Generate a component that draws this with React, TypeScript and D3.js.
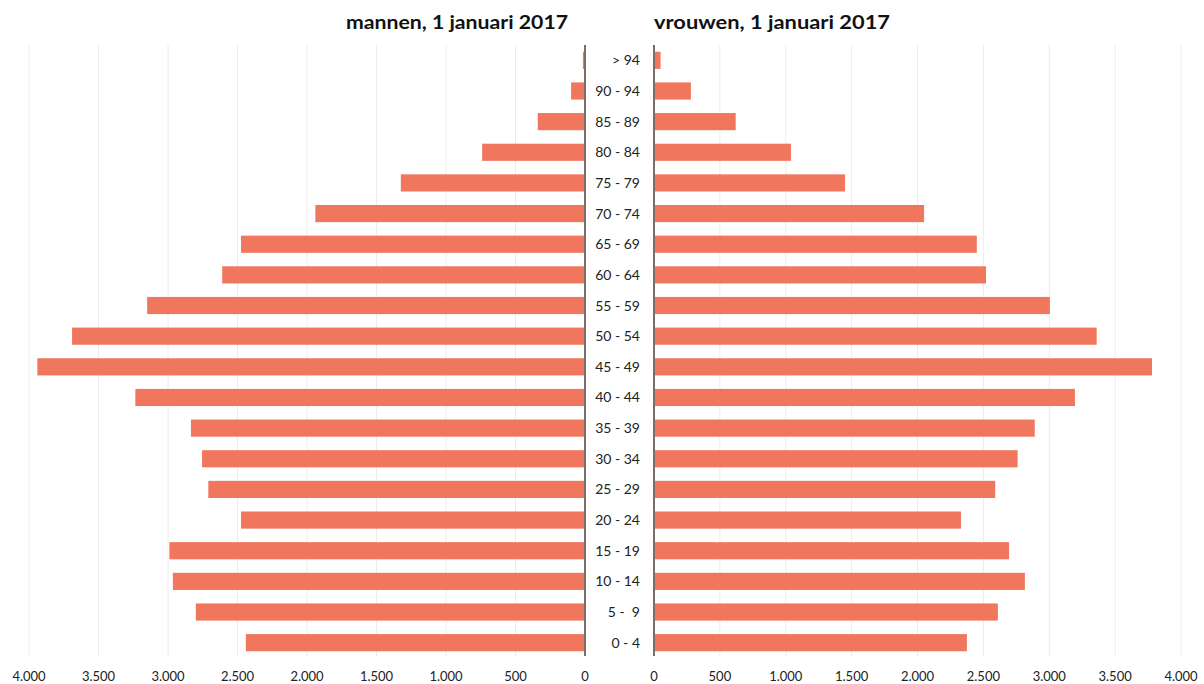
import React from 'react'
import * as d3 from 'd3'

const ageGroups = ['> 94', '90 - 94', '85 - 89', '80 - 84', '75 - 79', '70 - 74', '65 - 69', '60 - 64', '55 - 59', '50 - 54', '45 - 49', '40 - 44', '35 - 39', '30 - 34', '25 - 29', '20 - 24', '15 - 19', '10 - 14', '5 -  9', '0 - 4']

const men = [15, 100, 340, 740, 1325, 1940, 2475, 2610, 3150, 3690, 3940, 3235, 2835, 2755, 2710, 2475, 2990, 2965, 2800, 2440]
const women = [50, 280, 620, 1040, 1450, 2050, 2450, 2520, 3005, 3360, 3780, 3195, 2890, 2760, 2590, 2330, 2695, 2815, 2610, 2375]

const ticks = [0, 500, 1000, 1500, 2000, 2500, 3000, 3500, 4000]

const width = 1204
const height = 684
const fmt = (v: number) => v.toLocaleString('nl-NL').replace(/\s/g, '.')
const barColor = '#f0775e'
const font = 'Lato, "Open Sans", sans-serif'

export default function App() {
  const y = d3.scaleBand().domain(ageGroups).range([45, 658]).paddingInner(0.44).paddingOuter(0.22)
  const xLeft = d3.scaleLinear().domain([0, 4000]).range([585, 29])
  const xRight = d3.scaleLinear().domain([0, 4000]).range([654, 1181])
  const axisTop = 45
  const axisBottom = 656

  return (
    <svg width={width} height={height} style={{ position: 'absolute', left: 0, top: 0, fontFamily: font }}>
      <rect width={width} height={height} fill="#fff" />
      {ticks.filter((t) => t > 0).map((t) => (
        <g key={t}>
          <line x1={xLeft(t)} x2={xLeft(t)} y1={axisTop} y2={axisBottom} stroke="#ececec" />
          <line x1={xRight(t)} x2={xRight(t)} y1={axisTop} y2={axisBottom} stroke="#ececec" />
        </g>
      ))}
      {ageGroups.map((g, i) => (
        <g key={g}>
          <rect x={xLeft(men[i])} y={y(g)} width={xLeft(0) - xLeft(men[i])} height={y.bandwidth()} fill={barColor} />
          <rect x={xRight(0)} y={y(g)} width={xRight(women[i]) - xRight(0)} height={y.bandwidth()} fill={barColor} />
          <text x={640} y={(y(g) ?? 0) + y.bandwidth() / 2 + 5} textAnchor="end" fontSize={14} fill="#222" style={{ whiteSpace: 'pre' }}>
            {g}
          </text>
        </g>
      ))}
      <line x1={xLeft(0)} x2={xLeft(0)} y1={axisTop} y2={axisBottom} stroke="#7a6e66" strokeWidth={2} />
      <line x1={xRight(0)} x2={xRight(0)} y1={axisTop} y2={axisBottom} stroke="#7a6e66" strokeWidth={2} />
      {ticks.map((t) => (
        <g key={t} fontSize={13} fill="#222" textAnchor="middle">
          <text x={xLeft(t)} y={681}>{fmt(t)}</text>
          <text x={xRight(t)} y={681}>{fmt(t)}</text>
        </g>
      ))}
      <text x={457} y={29} textAnchor="middle" fontSize={19} fontWeight="bold" fill="#111" textLength={222} lengthAdjust="spacingAndGlyphs">mannen, 1 januari 2017</text>
      <text x={772} y={29} textAnchor="middle" fontSize={19} fontWeight="bold" fill="#111" textLength={236} lengthAdjust="spacingAndGlyphs">vrouwen, 1 januari 2017</text>
    </svg>
  )
}
